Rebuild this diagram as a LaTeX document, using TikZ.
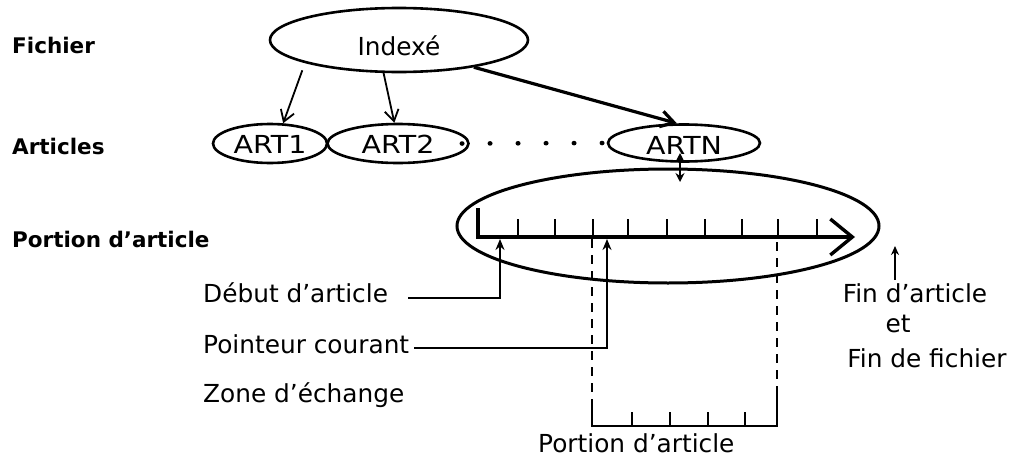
\documentclass[tikz,border=0pt]{standalone}
\usepackage{fontspec}
\setmainfont{DejaVu Sans}
\newfontfamily\artfont[FakeStretch=1.15]{DejaVu Sans}
\usetikzlibrary{shapes.geometric,arrows.meta}
\begin{document}
\begin{tikzpicture}[x=1pt,y=-1pt,
  txt/.style={inner sep=0pt,font=\fontsize{24.8}{30}\selectfont},
  lbl/.style={inner sep=0pt,font=\fontsize{21.5}{26}\selectfont\bfseries},
  ell/.style={ellipse,draw,line width=2.6pt,inner sep=0pt,font=\fontsize{24.8}{30}\selectfont},
  artell/.style={ell,font=\fontsize{24.8}{30}\artfont},
  arr/.style={line width=1.8pt,-{Straight Barb[length=11pt,width=14pt]}},
  thickarr/.style={line width=3.2pt,-{Straight Barb[length=13pt,width=16pt]}},
  ptrarr/.style={line width=2.3pt,-{Stealth[length=11pt,width=9pt]}},
  dblarr/.style={line width=2.3pt,{Stealth[length=9pt,width=9pt]}-{Stealth[length=9pt,width=9pt]}},
  axisline/.style={line width=3.4pt,-{Straight Barb[length=22pt,width=36pt]}},
  tickline/.style={line width=2.3pt},
  dashline/.style={line width=2.3pt,dash pattern=on 9pt off 7pt},
  dotline/.style={line width=4.5pt,line cap=round,dash pattern=on 0.5pt off 27.5pt},
  finarr/.style={line width=1.8pt,-{Stealth[length=9pt,width=8pt]}}]
\useasboundingbox (0,0) rectangle (1013,458);

% left labels
\node[lbl,anchor=base west] (fich) at (12,53) {Fichier};
\node[lbl,anchor=base west] (arts) at (12,154) {Articles};
\node[lbl,anchor=base west] (port) at (12,247) {Portion d’article};

% ellipses
\node[ell,minimum width=258pt,minimum height=64pt,text height=30pt,text depth=0pt] (idx) at (399,40) {Indexé};
\node[artell,minimum width=114pt,minimum height=39pt,text height=19pt,text depth=0pt] (art1) at (270,143.5) {ART1};
\node[artell,minimum width=141pt,minimum height=39pt,text height=19pt,text depth=0pt] (art2) at (398,143.5) {ART2};
\node[artell,minimum width=152pt,minimum height=37pt,text height=22pt,text depth=0pt] (artn) at (684,143) {ARTN};
\node[ell,line width=3pt,minimum width=422pt,minimum height=114pt] (big) at (668,226) {};

% arrows from Indexé
\draw[arr] ([yshift=-8pt]idx.193) -- (art1.57);
\draw[arr] (idx.245) -- (art2.100);
\draw[thickarr] (idx.340) -- (artn.110);

% dotted continuation
\draw[dotline] ([xshift=-8pt]art2.east) -- (artn.west);

% double arrow ARTN <-> portion
\draw[dblarr] ([xshift=-4pt,yshift=-10pt]artn.center) -- ([xshift=12pt,yshift=44pt]big.center);

% axis
\coordinate (atop) at (478,208);
\coordinate (a0) at (478,237);
\coordinate (aend) at (855,237);
\draw[axisline] (atop) -- (a0) -- (aend);
\foreach \x in {518,555,593,628,667,705,742,778,817}
  \draw[tickline] (\x,237) -- (\x,219);

% text labels below
\node[txt,anchor=base west] (deb) at (203,302) {Début d’article};
\node[txt,anchor=base west] (ptr) at (203,353) {Pointeur courant};
\node[txt,anchor=base west] (zone) at (203,402) {Zone d’échange};
\node[txt,anchor=base west] (bport) at (538,452) {Portion d’article};
\node[txt,anchor=base] (fin1) at (915,302) {Fin d’article};
\node[txt,anchor=base] (fin2) at (898,332) {et};
\node[txt,anchor=base] (fin3) at (927,367) {Fin de fichier};

% pointers
\coordinate (debT) at (500,239);
\coordinate (ptrT) at (607,239);
\draw[ptrarr] ([xshift=20pt,yshift=4pt]deb.base east) -| (debT);
\draw[ptrarr] ([xshift=5pt,yshift=5pt]ptr.base east) -| (ptrT);

% exchange zone
\coordinate (dLt) at (592,239);
\coordinate (dLb) at (592,403);
\coordinate (dRt) at (777,242);
\coordinate (dRb) at (777,394);
\coordinate (bL) at (592,426);
\coordinate (bR) at (777,426);
\draw[dashline] (dLt) -- (dLb);
\draw[dashline] (dRt) -- (dRb);
\draw[tickline] (dLb) -- (bL) -- (bR) -- (dRb);
\foreach \x in {632,670,708,745}
  \draw[tickline] (\x,426) -- (\x,412);

% end of article arrow
\coordinate (finT) at (895,246);
\draw[finarr] ([xshift=-20pt,yshift=3pt]fin1.north) -- (finT);
\end{tikzpicture}
\end{document}
